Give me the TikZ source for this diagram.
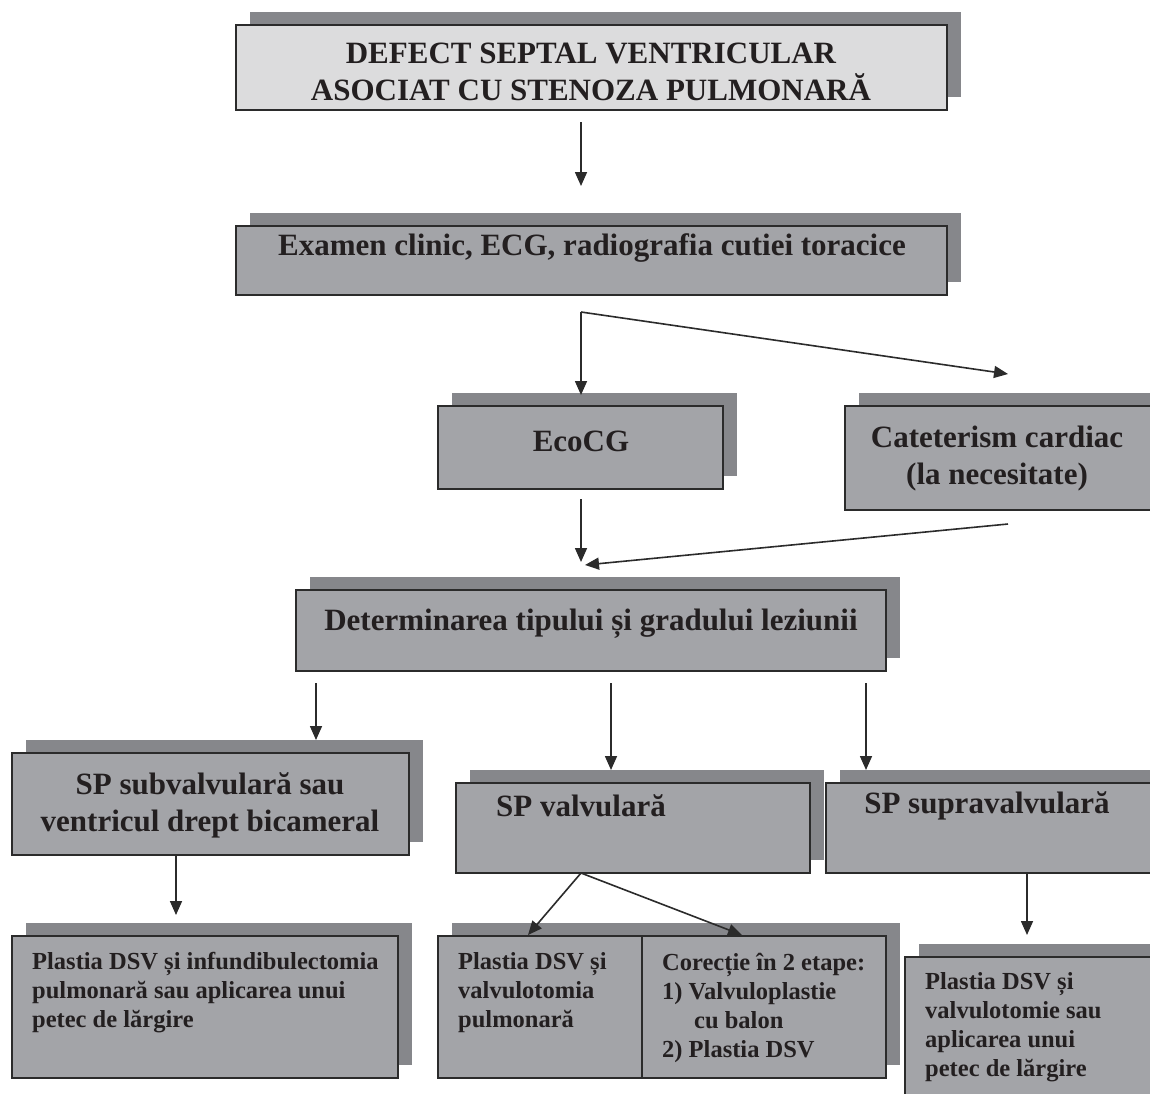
\documentclass[tikz,border=0pt]{standalone}
\usepackage{fontspec}
\setmainfont{Liberation Serif}
\usetikzlibrary{arrows.meta,calc}
\definecolor{boxfill}{HTML}{A3A4A8}
\definecolor{titlefill}{HTML}{DCDCDD}
\definecolor{shadowc}{HTML}{86878B}
\definecolor{edgec}{HTML}{2B2B2B}
\definecolor{textc}{HTML}{231F20}
\tikzset{
  frontbox/.style={draw=edgec, line width=2pt, fill=boxfill, inner sep=0pt, outer sep=0pt},
  shadowbox/.style={fill=shadowc, draw=none, inner sep=0pt, outer sep=0pt},
  bigtxt/.style={text=textc, inner sep=0pt, font=\bfseries\fontsize{31}{37}\selectfont, align=center},
  smalltxt/.style={text=textc, inner sep=0pt, font=\bfseries\fontsize{24.5}{29}\selectfont, align=left, anchor=west},
  arr/.style={draw=edgec, line width=1.6pt, -{Triangle[length=14pt,width=12pt]}},
}
\newcommand{\shbox}[6]{%
  \node[shadowbox, minimum width=#4, minimum height=#5] (#1s) at ($(#2,#3)+(14,-13)$) {};
  \node[frontbox, fill=#6, minimum width=#4, minimum height=#5] (#1) at (#2,#3) {};
}
\begin{document}
\begin{tikzpicture}[x=1pt,y=-1pt]
\useasboundingbox (0,0) rectangle (1150,1093);
\clip (0,0) rectangle (1150,1093);
\fill[white] (0,0) rectangle (1150,1093);
% boxes
\shbox{b1}{591.5}{67.5}{711pt}{85pt}{titlefill}
\shbox{b2}{591.5}{260.5}{711pt}{69pt}{boxfill}
\shbox{eco}{580.5}{447.5}{285pt}{83pt}{boxfill}
\shbox{cat}{998}{458}{306pt}{104pt}{boxfill}
\shbox{det}{591}{630.5}{590pt}{81pt}{boxfill}
\shbox{sub}{210.5}{804}{397pt}{102pt}{boxfill}
\shbox{val}{633}{828}{354pt}{90pt}{boxfill}
\shbox{sup}{988.5}{828}{325pt}{90pt}{boxfill}
\shbox{pa}{205}{1007}{386pt}{142pt}{boxfill}
\shbox{pb}{662}{1007}{448pt}{142pt}{boxfill}
\shbox{pc}{1028}{1028.5}{246pt}{143pt}{boxfill}
\draw[draw=edgec, line width=2pt] ([xshift=204pt]pb.north west) -- ([xshift=204pt]pb.south west);
% texts
\node[bigtxt] (t1) at (591,71.5) {DEFECT SEPTAL VENTRICULAR\\ASOCIAT CU STENOZA PULMONARĂ};
\node[bigtxt] (t2) at (592,248) {Examen clinic, ECG, radiografia cutiei toracice};
\node[bigtxt] (t3) at (581,441) {EcoCG};
\node[bigtxt] (t4) at (997,458.5) {Cateterism cardiac\\(la necesitate)};
\node[bigtxt] (t5) at (591,624) {Determinarea tipului și gradului leziunii};
\node[bigtxt] (t6) at (210,805) {SP subvalvulară sau\\ventricul drept bicameral};
\node[bigtxt] (t7) at (581,806) {SP valvulară};
\node[bigtxt] (t8) at (987,806) {SP supravalvulară};
\node[smalltxt] (t9) at (32,993) {Plastia DSV și infundibulectomia\\pulmonară sau aplicarea unui\\petec de lărgire};
\node[smalltxt] (t10) at (458,993) {Plastia DSV și\\valvulotomia\\pulmonară};
\node[smalltxt] (t11) at (662,1007.5) {Corecție în 2 etape:\\1) Valvuloplastie\\\hspace*{32pt}cu balon\\2) Plastia DSV};
\node[smalltxt] (t12) at (925,1027.5) {Plastia DSV și\\valvulotomie sau\\aplicarea unui\\petec de lărgire};
% connectors
\draw[arr] ([shift={(-10.5,12)}]b1.south) -- ++(0,64);
\coordinate (br) at ([shift={(-10.5,17)}]b2.south);
\draw[arr] (br) -- ([shift={(0.5,-11)}]eco.north);
\draw[arr] (br) -- ([shift={(10,-32)}]cat.north);
\draw[arr] ([shift={(0.5,10)}]eco.south) -- ++(0,63);
\draw[arr] ([shift={(10,14)}]cat.south) -- ([shift={(-6,-25)}]det.north);
\draw[arr] ([shift={(20,12)}]det.south west) -- ++(0,57);
\draw[arr] ([shift={(20,12)}]det.south) -- ++(0,87);
\draw[arr] ([shift={(-20,12)}]det.south east) -- ++(0,87);
\draw[arr] ([shift={(-34.5,1)}]sub.south) -- ++(0,59);
\coordinate (vb) at ([shift={(-52,0)}]val.south);
\draw[arr] (vb) -- ([shift={(-134,-1)}]pb.north);
\draw[arr] (vb) -- ([shift={(80,-1)}]pb.north);
\draw[arr] ([shift={(38.5,0)}]sup.south) -- ++(0,62);
\end{tikzpicture}
\end{document}
